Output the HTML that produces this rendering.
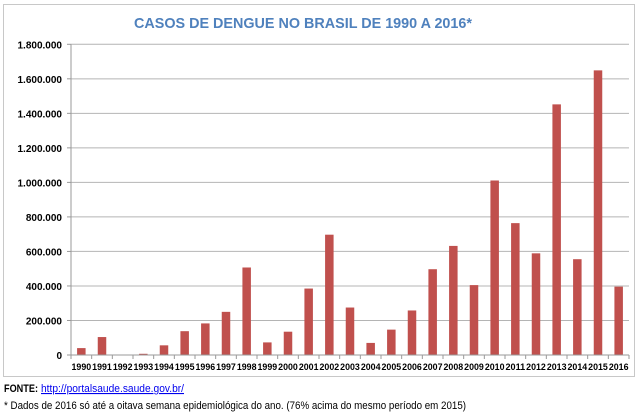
<!DOCTYPE html>
<html><head><meta charset="utf-8"><style>
body{margin:0;background:#fff;width:640px;height:414px;overflow:hidden;font-family:"Liberation Sans",sans-serif}
</style></head><body>
<svg id="chart" width="640" height="414" xmlns="http://www.w3.org/2000/svg" font-family="Liberation Sans, sans-serif">
<rect x="3.5" y="4.5" width="631" height="372" fill="#fff" stroke="#c8c8c8"/>
<text x="303" y="28" text-anchor="middle" font-weight="bold" font-size="15" fill="#4f81bd" textLength="338" lengthAdjust="spacingAndGlyphs">CASOS DE DENGUE NO BRASIL DE 1990 A 2016*</text>
<g id="grid"></g><g id="bars"></g><g id="axes"></g>
<text x="4" y="392" font-size="11" font-weight="bold" textLength="34" lengthAdjust="spacingAndGlyphs">FONTE:</text>
<a><text x="41" y="392" font-size="11" fill="#0000ee" text-decoration="underline" textLength="143" lengthAdjust="spacingAndGlyphs">http://portalsaude.saude.gov.br/</text></a>
<text x="4" y="409" font-size="11" textLength="462" lengthAdjust="spacingAndGlyphs">* Dados de 2016 só até a oitava semana epidemiológica do ano. (76% acima do mesmo período em 2015)</text>
</svg>
<script>
const years=["1990","1991","1992","1993","1994","1995","1996","1997","1998","1999","2000","2001","2002","2003","2004","2005","2006","2007","2008","2009","2010","2011","2012","2013","2014","2015","2016"];
const cases=[40000,104000,2000,7000,56000,138000,183000,250000,507000,73000,135000,385000,697000,275000,70000,147000,258000,497000,632000,405000,1011000,764000,589000,1452000,555000,1649000,396000];
const yTicks=[0,200000,400000,600000,800000,1000000,1200000,1400000,1600000,1800000];
const yTickLabels=["0","200.000","400.000","600.000","800.000","1.000.000","1.200.000","1.400.000","1.600.000","1.800.000"];
const NS="http://www.w3.org/2000/svg";
const L=71,R=629,T=44.3,B=355,YMAX=1800000;
const y=v=>B-(v/YMAX)*(B-T);
const band=(R-L)/years.length;
const x=i=>L+band*i;
function mk(tag,attrs,parent){const e=document.createElementNS(NS,tag);for(const k in attrs)e.setAttribute(k,attrs[k]);document.getElementById(parent).appendChild(e);return e;}
yTicks.forEach((t,i)=>{
 if(t>0){const g=mk('line',{x1:L,x2:R,y1:y(t),y2:y(t),stroke:'#b4b4b4','stroke-width':1},'grid');
 
 }
 const tk=mk('line',{x1:L-4,x2:L,y1:y(t),y2:y(t),stroke:'#999'},'axes');
 
 
 const lb=mk('text',{x:L-9,y:y(t)+4,'text-anchor':'end','font-size':'10','font-weight':'bold'},'axes');
 lb.textContent=yTickLabels[i];
 
 
});
cases.forEach((v,i)=>{
 const bw=8.5;
 const r=mk('rect',{x:x(i)+band/2-bw/2,y:y(v),width:bw,height:B-y(v),fill:'#c0504d'},'bars');
 
 
 const lb=mk('text',{x:x(i)+band/2,y:B+15,'text-anchor':'middle','font-size':'9.5','font-weight':'bold',textLength:band-1,lengthAdjust:'spacingAndGlyphs'},'axes');
 lb.textContent=years[i];
 
 
 const tk=mk('line',{x1:x(i),x2:x(i),y1:B,y2:B+4,stroke:'#999'},'axes');
 
 
});
const tkEnd=mk('line',{x1:R,x2:R,y1:B,y2:B+4,stroke:'#999'},'axes');


const ya=mk('line',{x1:L,x2:L,y1:T,y2:B,stroke:'#999'},'axes');


const xa=mk('line',{x1:L,x2:R,y1:B,y2:B,stroke:'#999'},'axes');


</script>
</body></html>
